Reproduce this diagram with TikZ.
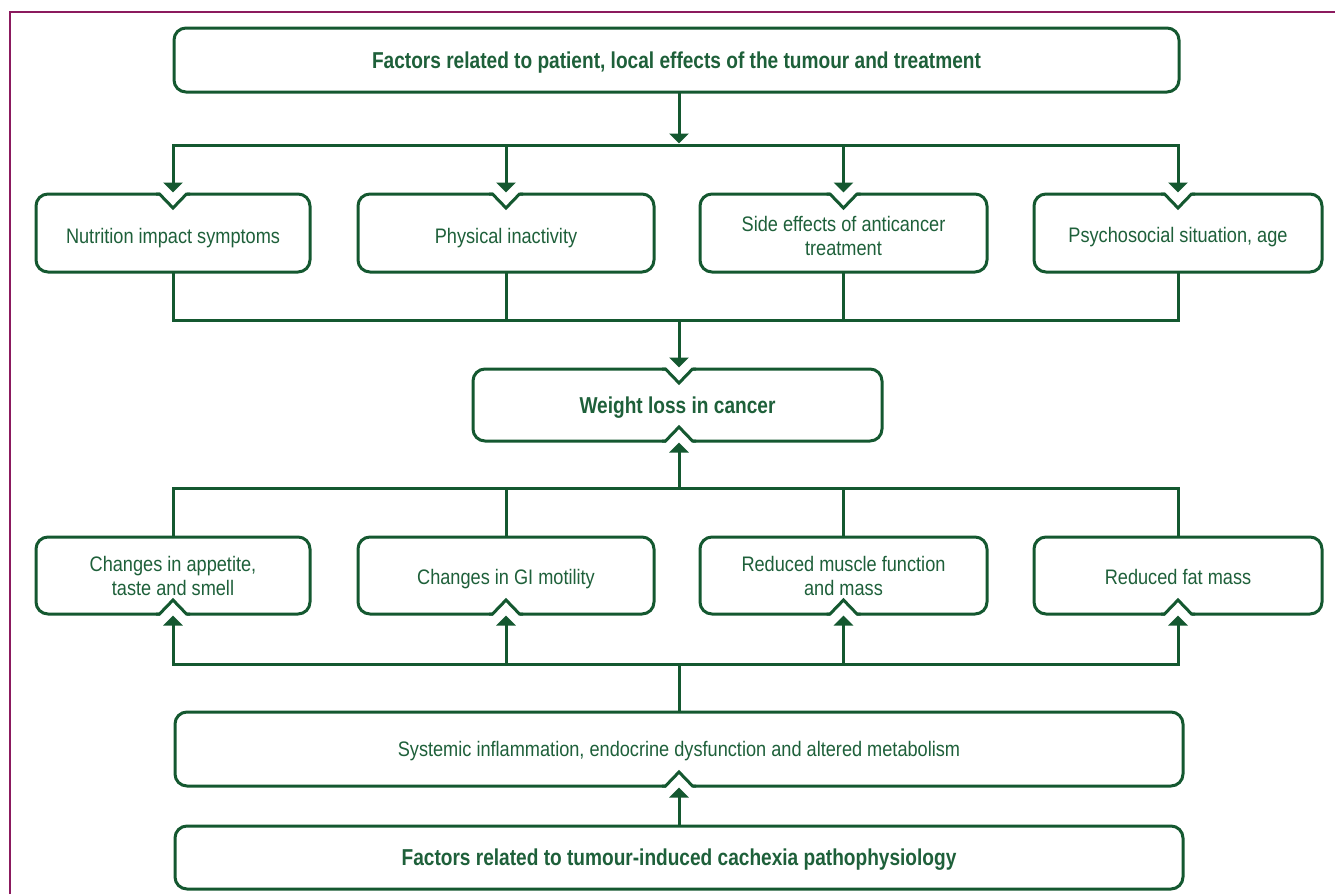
\documentclass[tikz,border=0pt]{standalone}
\usepackage{fontspec}
\setmainfont{Liberation Sans}[FakeStretch=0.865]
\newfontfamily\bcfont{Liberation Sans}[FakeStretch=0.83]
\usetikzlibrary{arrows.meta,calc}
\definecolor{dgreen}{RGB}{20,88,48}
\definecolor{txtgreen}{RGB}{30,96,58}
\definecolor{bordercol}{RGB}{139,26,94}
\newcommand\notchdown[1]{%
  \fill[white] ($(#1)+(-13.5,-2.4)$) rectangle ($(#1)+(13.5,2.4)$);
  \draw[conn] ($(#1)+(-17,0)$) -- ($(#1)+(-13.5,0)$) -- ($(#1)+(0,14)$) -- ($(#1)+(13.5,0)$) -- ($(#1)+(17,0)$);}
\newcommand\notchup[1]{%
  \fill[white] ($(#1)+(-13.5,-2.4)$) rectangle ($(#1)+(13.5,2.4)$);
  \draw[conn] ($(#1)+(-17,0)$) -- ($(#1)+(-13.5,0)$) -- ($(#1)+(0,-14)$) -- ($(#1)+(13.5,0)$) -- ($(#1)+(17,0)$);}
\begin{document}
\begin{tikzpicture}[x=1pt,y=-1pt,
  conn/.style={draw=dgreen, line width=3pt},
  arr/.style={conn, -{Triangle[length=10pt,width=19pt]}, shorten >=1.5pt},
  box/.style={draw=dgreen, line width=3pt, rounded corners=12pt, fill=white,
    rectangle, inner sep=0pt, outer sep=0pt, align=center, text=txtgreen,
    font=\fontsize{21}{24}\selectfont},
  bbox/.style={box, font=\fontsize{23}{26}\selectfont\bcfont\bfseries},
  rowbox/.style={box, minimum height=78pt},
  oneline/.style={text height=#1, text depth=0pt}]
\useasboundingbox (0,0) rectangle (1335,894);
\fill[white] (0,0) rectangle (1335,894);
% frame
\draw[bordercol, line width=2pt] (9.5,894) -- (9.5,11.5) -- (1335,11.5);
% helper coordinates
\coordinate (spine) at (679,0);
\coordinate (bus1) at (0,145);
\coordinate (bus2) at (0,320);
\coordinate (bus3) at (0,488);
\coordinate (bus4) at (0,664);
% nodes
\node[bbox, oneline=16.5pt, minimum width=1005pt, minimum height=64pt] (top) at (676.5,60)
  {Factors related to patient, local effects of the tumour and treatment};
\node[rowbox, oneline=20pt, minimum width=274pt] (a1) at (173,233) {Nutrition impact symptoms};
\node[rowbox, oneline=20pt, minimum width=296pt] (a2) at (506,233) {Physical inactivity};
\node[rowbox, minimum width=287pt] (a3) at (843.5,233) {\rule{0pt}{21.5pt}Side effects of anticancer\\treatment};
\node[rowbox, oneline=19.5pt, minimum width=288pt] (a4) at (1178,233) {Psychosocial situation, age};
\node[bbox, oneline=17.5pt, minimum width=409pt, minimum height=72pt] (wl) at (677.5,405) {Weight loss in cancer};
\node[rowbox, minimum width=274pt, minimum height=77pt] (c1) at (173,575.5) {Changes in appetite,\\taste and smell};
\node[rowbox, oneline=17pt, minimum width=296pt, minimum height=77pt] (c2) at (506,575.5) {Changes in GI motility};
\node[rowbox, minimum width=287pt, minimum height=77pt] (c3) at (843.5,575.5) {Reduced muscle function\\and mass};
\node[rowbox, oneline=17pt, minimum width=288pt, minimum height=77pt] (c4) at (1178,575.5) {Reduced fat mass};
\node[box, oneline=15pt, minimum width=1008pt, minimum height=74pt] (sys) at (679,749)
  {Systemic inflammation, endocrine dysfunction and altered metabolism};
\node[bbox, oneline=16.5pt, minimum width=1008pt, minimum height=63pt] (bot) at (679,857.5)
  {Factors related to tumour-induced cachexia pathophysiology};
% notches
\notchdown{a1.north}
\notchdown{a2.north}
\notchdown{a3.north}
\notchdown{a4.north}
\notchdown{wl.north -| spine}
\notchup{wl.south -| spine}
\notchup{c1.south}
\notchup{c2.south}
\notchup{c3.south}
\notchup{c4.south}
\notchup{sys.south -| spine}
% connectors: top to row 1
\draw[arr] (top.south -| spine) -- (spine |- bus1);
\draw[arr] (spine |- bus1) -| (a1.north);
\draw[arr] (spine |- bus1) -| (a4.north);
\draw[arr] (a2.north |- bus1) -- (a2.north);
\draw[arr] (a3.north |- bus1) -- (a3.north);
% row 1 to weight loss
\draw[conn] (a1.south) |- (a4.south |- bus2) -- (a4.south);
\draw[conn] (a2.south) -- (a2.south |- bus2);
\draw[conn] (a3.south) -- (a3.south |- bus2);
\draw[arr] (spine |- bus2) -- (spine |- wl.north);
% row 2 to weight loss
\draw[conn] (c1.north) |- (c4.north |- bus3) -- (c4.north);
\draw[conn] (c2.north) -- (c2.north |- bus3);
\draw[conn] (c3.north) -- (c3.north |- bus3);
\draw[arr] (spine |- bus3) -- (spine |- wl.south);
% systemic to row 2
\draw[conn] (spine |- sys.north) -- (spine |- bus4);
\draw[arr] (spine |- bus4) -| (c1.south);
\draw[arr] (spine |- bus4) -| (c4.south);
\draw[arr] (c2.south |- bus4) -- (c2.south);
\draw[arr] (c3.south |- bus4) -- (c3.south);
% bottom to systemic
\draw[arr] (spine |- bot.north) -- (spine |- sys.south);
\end{tikzpicture}
\end{document}
